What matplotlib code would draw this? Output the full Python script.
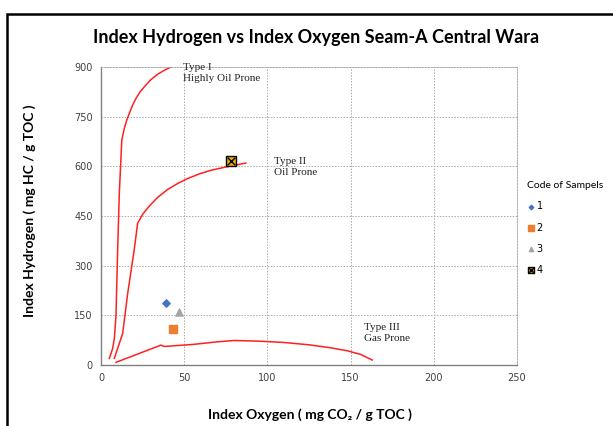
import matplotlib.pyplot as plt
from matplotlib.patches import Rectangle

# kerogen type boundary curves (oxygen index, hydrogen index)
type1_x = [5, 7, 8, 9, 10, 11, 12.5, 14, 15.5, 17, 19, 21, 23.5, 26.5, 30, 34, 38, 42]
type1_y = [20, 50, 80, 150, 350, 520, 680, 715, 740, 760, 785, 805, 825, 843, 862, 878, 890, 900]
type2_x = [8, 13, 16, 20, 22, 25, 29, 34, 40, 46, 52, 59, 66, 75, 82, 87]
type2_y = [20, 95, 215, 350, 428, 455, 480, 506, 530, 548, 563, 577, 588, 598, 605, 610]
type3_x = [9, 36, 38, 55, 70, 80, 95, 110, 125, 138, 148, 156, 163]
type3_y = [8, 60, 56, 62, 70, 74, 72, 68, 61, 52, 43, 32, 15]

# samples
codes = ['1', '2', '3', '4']
oi = [39, 43, 47, 78]
hi = [188, 108, 160, 615]

fig = plt.figure(figsize=(6.13, 4.26), dpi=100)
ax = fig.add_axes([0.1648, 0.1432, 0.6786, 0.6995])

curve_kw = dict(color='#ff2020', lw=1.1)
ax.plot(type1_x, type1_y, **curve_kw)
ax.plot(type2_x, type2_y, **curve_kw)
ax.plot(type3_x, type3_y, **curve_kw)

h1 = ax.scatter(oi[0], hi[0], marker='D', s=14, color='#4472c4', zorder=3)
h2 = ax.scatter(oi[1], hi[1], marker='s', s=40, color='#ed7d31', zorder=3)
h3 = ax.scatter(oi[2], hi[2], marker='^', s=26, color='#a5a5a5', zorder=3)
h4a = ax.scatter(oi[3], hi[3], marker='s', s=60, facecolor='#e8b000', edgecolor='black', lw=1, zorder=3)
h4b = ax.scatter(oi[3], hi[3], marker='x', s=30, color='black', lw=1, zorder=4)

ax.set_xlim(0, 250)
ax.set_ylim(0, 900)
ax.set_xticks(range(0, 251, 50))
ax.set_yticks(range(0, 901, 150))
ax.grid(True, color='#aaaaaa', ls=(0, (1.5, 1.5)), lw=0.7)
ax.tick_params(length=0, labelsize=7, colors='#404040', pad=6)
for s in ['top', 'right']:
    ax.spines[s].set_linestyle((0, (1.5, 1.5)))
    ax.spines[s].set_color('#aaaaaa')
    ax.spines[s].set_linewidth(0.7)
for s in ['left', 'bottom']:
    ax.spines[s].set_color('#808080')
    ax.spines[s].set_linewidth(1)

txt_kw = dict(family='Liberation Serif', fontsize=8, color='#222222', va='top', linespacing=1.25)
ax.text(49, 912, 'Type I\nHighly Oil Prone', **txt_kw)
ax.text(104, 627, 'Type II\nOil Prone', **txt_kw)
ax.text(158, 127, 'Type III\nGas Prone', **txt_kw)

fig.text(0.515, 0.912, 'Index Hydrogen vs Index Oxygen Seam-A Central Wara',
         ha='center', va='center', fontsize=13, fontweight='bold', family='Lato')
fig.text(0.506, 0.026, 'Index Oxygen ( mg CO₂ / g TOC )', ha='center', va='center',
         fontsize=10, fontweight='bold', family=['Lato', 'DejaVu Sans'])
fig.text(0.049, 0.505, 'Index Hydrogen ( mg HC / g TOC )', ha='center', va='center',
         rotation=90, fontsize=10, fontweight='bold', family='Lato')

leg = fig.legend([h1, h2, h3, (h4a, h4b)], codes, title='Code of Sampels',
                 loc='upper left', bbox_to_anchor=(0.845, 0.595), frameon=False,
                 fontsize=7, title_fontsize=7.5, handlelength=0.8, handletextpad=0.2,
                 labelspacing=1.15, markerscale=0.6)
leg.get_title().set_family('Lato')
leg._legend_box.align = 'left'

# outer chart frame (cut off at right and bottom)
fig.patches.append(Rectangle((7 / 613, -0.1), 1.2, 1 - 14 / 426 + 0.1,
                             transform=fig.transFigure, fill=False,
                             edgecolor='black', lw=1.8))

fig.savefig('out.png', dpi=100)
